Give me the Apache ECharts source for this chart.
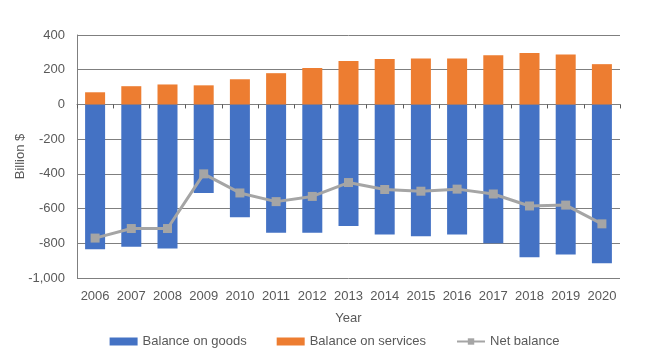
<!DOCTYPE html>
<html><head><meta charset="utf-8">
<script src="https://cdn.jsdelivr.net/npm/echarts@6/dist/echarts.min.js"></script>
<style>html,body{margin:0;padding:0;background:#fff}#c{width:669px;height:360px}</style>
</head><body><div id="c"></div>
<script>
var years = ['2006','2007','2008','2009','2010','2011','2012','2013','2014','2015','2016','2017','2018','2019','2020'];
var goods = [-835,-820,-830,-510,-650,-740,-740,-700,-750,-760,-750,-800,-880,-865,-915];
var services = [70,105,115,110,145,180,210,250,262,265,265,283,297,287,232];
var net = [-770,-715,-715,-400,-510,-560,-530,-450,-490,-500,-488,-516,-585,-580,-688];
var yTicks = {min:-1000, max:400, interval:200};

var font = 'Liberation Sans, Arial, sans-serif';
var chart = echarts.init(document.getElementById('c'), null, {renderer:'canvas'});
chart.setOption({
  animation:false,
  grid:{left:77,right:49,top:35,bottom:82},
  legend:{
    top:330, left:'center', itemWidth:28, itemHeight:8, itemGap:30,
    textStyle:{color:'#595959',fontSize:13,fontFamily:font},
    data:[{name:'Balance on goods',icon:'rect'},{name:'Balance on services',icon:'rect'},{name:'Net balance'}]
  },
  xAxis:[{
    type:'category', data:years, position:'bottom',
    axisLine:{show:false,onZero:false}, axisTick:{show:false},
    axisLabel:{color:'#595959',fontSize:13,fontFamily:font,margin:12,interval:0},
    name:'Year', nameLocation:'middle', nameGap:34, nameMoveOverlap:false,
    nameTextStyle:{color:'#595959',fontSize:13,fontFamily:font}
  },{
    type:'category', data:years, position:'top',
    axisLine:{show:true,onZero:true,lineStyle:{color:'#7f7f7f',width:1}},
    axisTick:{show:true,inside:true,length:4,lineStyle:{color:'#595959'}},
    axisLabel:{show:false}
  }],
  yAxis:{
    type:'value', min:yTicks.min, max:yTicks.max, interval:yTicks.interval,
    axisLine:{show:true,lineStyle:{color:'#7f7f7f'}},
    axisTick:{show:false},
    splitLine:{show:true,lineStyle:{color:'#7f7f7f',width:1}},
    axisLabel:{color:'#595959',fontSize:13,fontFamily:font,margin:12,
      formatter:function(v){return v.toLocaleString('en-US');}},
    name:'Billion $', nameLocation:'middle', nameGap:50, nameRotate:90, nameMoveOverlap:false,
    nameTextStyle:{color:'#595959',fontSize:13,fontFamily:font}
  },
  series:[
    {name:'Balance on goods',type:'bar',stack:'s',data:goods,barWidth:20,itemStyle:{color:'#4472C4'}},
    {name:'Balance on services',type:'bar',stack:'s',data:services,barWidth:20,itemStyle:{color:'#ED7D31'}},
    {name:'Net balance',type:'line',data:net,symbol:'rect',symbolSize:9,
      lineStyle:{color:'#A5A5A5',width:3},itemStyle:{color:'#A5A5A5'},z:5}
  ]
});
</script></body></html>
